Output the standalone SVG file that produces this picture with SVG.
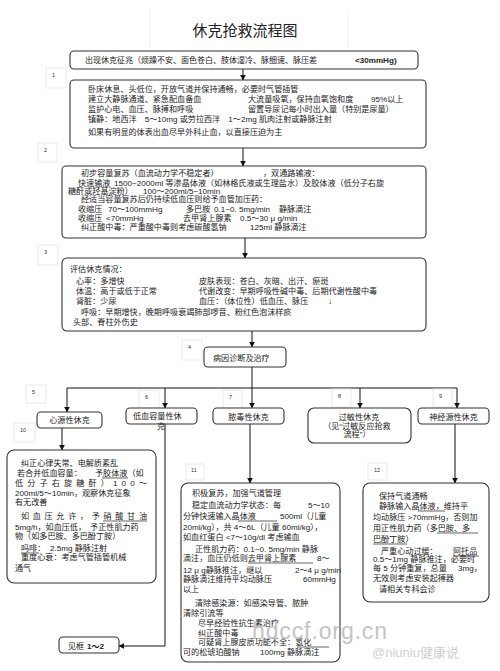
<svg xmlns="http://www.w3.org/2000/svg" width="500" height="671" viewBox="0 0 500 671">
<defs>
<marker id="ah" viewBox="0 0 10 10" refX="9" refY="5" markerWidth="6" markerHeight="6" orient="auto-start-reverse" markerUnits="userSpaceOnUse">
<path d="M0,0 L10,5 L0,10 z" fill="#111"/>
</marker>
<style>
.box{fill:#fff;stroke:#333;stroke-width:1.1}
.lbl{fill:#fff;stroke:#e4e4e4;stroke-width:0.8}
text{font-family:"Liberation Sans","Noto Sans CJK SC",sans-serif;font-size:8.1px;fill:#222}
.n{font-size:5.5px;fill:#333}
.b{font-weight:bold}
.c{text-anchor:middle}
.ttl{font-family:"Noto Sans CJK SC",sans-serif;font-size:15px;fill:#222}
.u{stroke:#222;stroke-width:0.7}
.conn path{stroke:#111;stroke-width:1;fill:none}
.wm{fill:#c4c4c4}
</style>
</defs>
<rect width="500" height="671" fill="#fff"/>
<g id="title">
<path d="M150,10 V47 M348,10 V47" stroke="#efefef" stroke-width="1" fill="none"/>
<text class="ttl c" x="245" y="36">休克抢救流程图</text>
</g>

<g class="conn" id="connectors">
<path d="M243,69 V80" marker-end="url(#ah)"/>
<path d="M243,148 V166" marker-end="url(#ah)"/>
<path d="M245,238 V258" marker-end="url(#ah)"/>
<path d="M252,331 V347" marker-end="url(#ah)"/>
<path d="M252,367 V388 M67,388 H457"/>
<path d="M67,388 V412" marker-end="url(#ah)"/>
<path d="M165,388 V408" marker-end="url(#ah)"/>
<path d="M252,388 V408" marker-end="url(#ah)"/>
<path d="M360,388 V408" marker-end="url(#ah)"/>
<path d="M457,388 V408" marker-end="url(#ah)"/>
<path d="M62,428 V450" marker-end="url(#ah)"/>
<path d="M165,424 V646 H119" marker-end="url(#ah)"/>
<path d="M250,424 V483" marker-end="url(#ah)"/>
<path d="M455,424 V483" marker-end="url(#ah)"/>
</g>

<g id="labels">
<rect class="lbl" x="46" y="68" width="20" height="20"/><text class="n" x="52" y="77">1</text>
<rect class="lbl" x="38" y="143" width="19" height="19"/><text class="n" x="44" y="152">2</text>
<rect class="lbl" x="38" y="245" width="20" height="20"/><text class="n" x="44" y="254">3</text>
<rect class="lbl" x="182" y="340" width="20" height="20"/><text class="n" x="188" y="349">4</text>
<rect class="lbl" x="26" y="385" width="20" height="18"/><text class="n" x="32" y="394">5</text>
<rect class="lbl" x="139" y="390" width="20" height="18"/><text class="n" x="145" y="399">6</text>
<rect class="lbl" x="223" y="390" width="19" height="18"/><text class="n" x="229" y="399">7</text>
<rect class="lbl" x="332" y="389" width="19" height="18"/><text class="n" x="338" y="398">8</text>
<rect class="lbl" x="433" y="389" width="19" height="18"/><text class="n" x="439" y="398">9</text>
<rect class="lbl" x="14" y="423" width="21" height="19"/><text class="n" x="20" y="432">10</text>
<rect class="lbl" x="186" y="464" width="18" height="16"/><text class="n" x="191" y="472">11</text>
<rect class="lbl" x="368" y="463" width="19" height="17"/><text class="n" x="374" y="472">12</text>
</g>

<g id="n0">
<rect class="box" x="70" y="51" width="348" height="18" rx="4"/>
<text x="85" y="63" style="font-size:8px">出现休克征兆（烦躁不安、面色苍白、肢体湿冷、脉细速、脉压差</text>
<text class="b" x="355" y="63">&lt;30mmHg)</text>
</g>

<g id="n1">
<rect class="box" x="70" y="80" width="356" height="68" rx="4"/>
<text x="88" y="92">卧床休息、头低位，开放气道并保持通畅，必要时气管插管</text>
<text x="88" y="102">建立大静脉通道、紧急配血备血</text>
<text x="248" y="102">大流量吸氧，保持血氧饱和度</text>
<text x="371" y="102">95%以上</text>
<text x="88" y="112">监护心电、血压、脉搏和呼吸</text>
<text x="248" y="112">留置导尿记每小时出入量（特别是尿量）</text>
<text x="88" y="122">镇静：地西泮　5～10mg 或劳拉西泮　1～2mg 肌肉注射或静脉注射</text>
<text x="88" y="135">如果有明显的体表出血尽早外科止血，以直接压迫为主</text>
</g>

<g id="n2">
<rect class="box" x="62" y="166" width="364" height="72" rx="4"/>
<text x="81" y="176">初步容量复苏（血流动力学不稳定者）</text>
<text x="263" y="176">，双通路输液：</text>
<text x="78" y="186">快速输液</text>
<text x="114" y="186">1500~2000ml 等渗晶体液（如林格氏液或生理盐水）及胶体液（低分子右旋</text>
<text x="68" y="194">糖酐或羟基淀粉）</text>
<text x="143" y="194">100～200ml/5~10min</text>
<text x="81" y="202">经适当容量复苏后仍持续低血压则给予血管加压药：</text>
<text x="78" y="212">收缩压</text>
<text x="108" y="212">70～100mmHg</text>
<text x="186" y="212">多巴胺</text>
<text x="214" y="212">0.1~0. 5mg/min</text>
<text x="279" y="212">静脉滴注</text>
<text x="78" y="221">收缩压</text>
<text x="106" y="221">&lt;70mmHg</text>
<text x="183" y="221">去甲肾上腺素</text>
<text x="240" y="221">0.5～30 μ g/min</text>
<text x="81" y="230">纠正酸中毒：严重酸中毒则考虑碳酸氢钠</text>
<text x="250" y="230">125ml 静脉滴注</text>
</g>

<g id="n3">
<rect class="box" x="62" y="258" width="364" height="73" rx="5"/>
<text x="70" y="272">评估休克情况：</text>
<text x="76" y="284">心率：多增快</text>
<text x="199" y="284">皮肤表现：苍白、灰暗、出汗、瘀斑</text>
<text x="76" y="294">体温：高于或低于正常</text>
<text x="199" y="294">代谢改变：早期呼吸性碱中毒、后期代谢性酸中毒</text>
<text x="76" y="304">肾脏：少尿</text>
<text x="199" y="304">血压：（体位性）低血压、脉压</text>
<text x="328" y="304">↓</text>
<text x="81" y="315">呼吸：早期增快，晚期呼吸衰竭肺部啰音、粉红色泡沫样痰</text>
<text x="73" y="325">头部、脊柱外伤史</text>
</g>

<g id="n4">
<rect class="box" x="204" y="347" width="82" height="20" rx="4"/>
<text x="213" y="361">病因诊断及治疗</text>
</g>

<g id="n5">
<rect class="box" x="37" y="412" width="65" height="16" rx="4"/>
<text class="c" x="69.5" y="423">心源性休克</text>
</g>

<g id="n6">
<rect class="box" x="126" y="408" width="71" height="16" rx="4"/>
<text x="133" y="419">低血容量性休</text>
<text class="c" x="161" y="429">克</text>
</g>

<g id="n7">
<rect class="box" x="213" y="408" width="71" height="16" rx="4"/>
<text class="c" x="248.5" y="420">脓毒性休克</text>
</g>

<g id="n8">
<rect class="box" x="308" y="408" width="103" height="35" rx="6"/>
<text class="c" x="359" y="420">过敏性休克</text>
<text class="c" x="357" y="429">（见“过敏反应抢救</text>
<text class="c" x="357" y="437">流程”）</text>
</g>

<g id="n9">
<rect class="box" x="418" y="408" width="71" height="16" rx="4"/>
<text class="c" x="453.5" y="420">神经源性休克</text>
</g>

<g id="n10">
<rect class="box" x="7" y="450" width="149" height="133" rx="7"/>
<text x="21" y="466">纠正心律失常、电解质紊乱</text>
<text x="17" y="476">若合并低血容量：</text>
<text x="95" y="476">予胶体液（如</text>
<path class="u" d="M102,478 H128"/>
<text x="15" y="486" textLength="132" lengthAdjust="spacing">低分子右旋糖酐）100～</text>
<text x="15" y="496">200ml/5～10min，观察休克征象</text>
<text x="15" y="505">有无改善</text>
<text x="21" y="519" textLength="126" lengthAdjust="spacing">如血压允许，予硝酸甘油</text>
<path class="u" d="M103,521 H147"/>
<text x="15" y="530">5mg/h，如血压低，　予正性肌力药</text>
<text x="15" y="539">物（如多巴胺、多巴酚丁胺）</text>
<text x="21" y="551">吗啡：</text>
<path class="u" d="M21,553 H39"/>
<text x="50" y="551">2.5mg 静脉注射</text>
<text x="21" y="560">重度心衰：考虑气管插管机械</text>
<text x="15" y="571">通气</text>
</g>

<g id="n13">
<rect class="box" x="59" y="637" width="60" height="16" rx="4"/>
<text x="68" y="649">见框</text>
<text class="b" x="87" y="649">1～2</text>
</g>

<g id="n11">
<rect class="box" x="181" y="483" width="159" height="179" rx="7"/>
<text x="192" y="496">积极复苏，加强气道管理</text>
<text x="192" y="508">稳定血流动力学状态：每</text>
<text x="308" y="508">5～10</text>
<text x="183" y="519">分钟快速输入晶体液</text>
<path class="u" d="M238,521 H277"/>
<text x="280" y="519">500ml（儿童</text>
<text x="183" y="530">20ml/kg），共 4～6L（儿童 60ml/kg），</text>
<text x="183" y="540">如血红蛋白 &lt;7～10g/dl 考虑输血</text>
<text x="195" y="552">正性肌力药：0.1~0. 5mg/min 静脉</text>
<text x="183" y="561">滴注，血压仍低则去甲肾上腺素</text>
<path class="u" d="M248,563 H313"/>
<text x="317" y="561">8～</text>
<text x="183" y="573">12 μ g静脉推注，继以</text>
<text x="295" y="573">2～4 μ g/min</text>
<text x="183" y="582">静脉滴注维持平均动脉压</text>
<text x="303" y="582">60mmHg</text>
<text x="183" y="592">以上</text>
<text x="195" y="606">清除感染源：如感染导管、脓肿</text>
<text x="183" y="616">清除引流等</text>
<text x="198" y="626">尽早经验性抗生素治疗</text>
<text x="198" y="636">纠正酸中毒</text>
<text x="198" y="645">可疑肾上腺皮质功能不全：氢化</text>
<path class="u" d="M297,647 H329"/>
<text x="183" y="655">可的松琥珀酸钠</text>
<text x="260" y="655">100mg 静脉滴注</text>
</g>

<g id="n12">
<rect class="box" x="363" y="483" width="126" height="119" rx="7"/>
<text x="379" y="499">保持气道通畅</text>
<text x="379" y="509">静脉输入晶体液，维持平</text>
<path class="u" d="M418,511 H445"/>
<text x="373" y="520">均动脉压 &gt;70mmHg，否则加</text>
<text x="373" y="531">用正性肌力药（多巴胺、多</text>
<path class="u" d="M437,533 H478"/>
<text x="373" y="542">巴酚丁胺）</text>
<path class="u" d="M373,544 H407"/>
<text x="381" y="554">严重心动过缓：</text>
<text x="453" y="554">阿托品</text>
<path class="u" d="M453,556 H479"/>
<text x="373" y="562">0.5～1mg 静脉推注，必要时</text>
<text x="373" y="571">每 5 分钟重复，总量</text>
<text x="458" y="571">3mg，</text>
<text x="373" y="581">无效则考虑安装起搏器</text>
<text x="379" y="592">请相关专科会诊</text>
</g>

<g id="watermark">
<text class="wm" x="252" y="639" style="font-size:23px" textLength="135" lengthAdjust="spacing">hdccf.org.cn</text>
<text class="wm" x="372" y="657" style="font-size:13px;fill:#d0d0d0">@niuniu健康说</text>
</g>
</svg>
